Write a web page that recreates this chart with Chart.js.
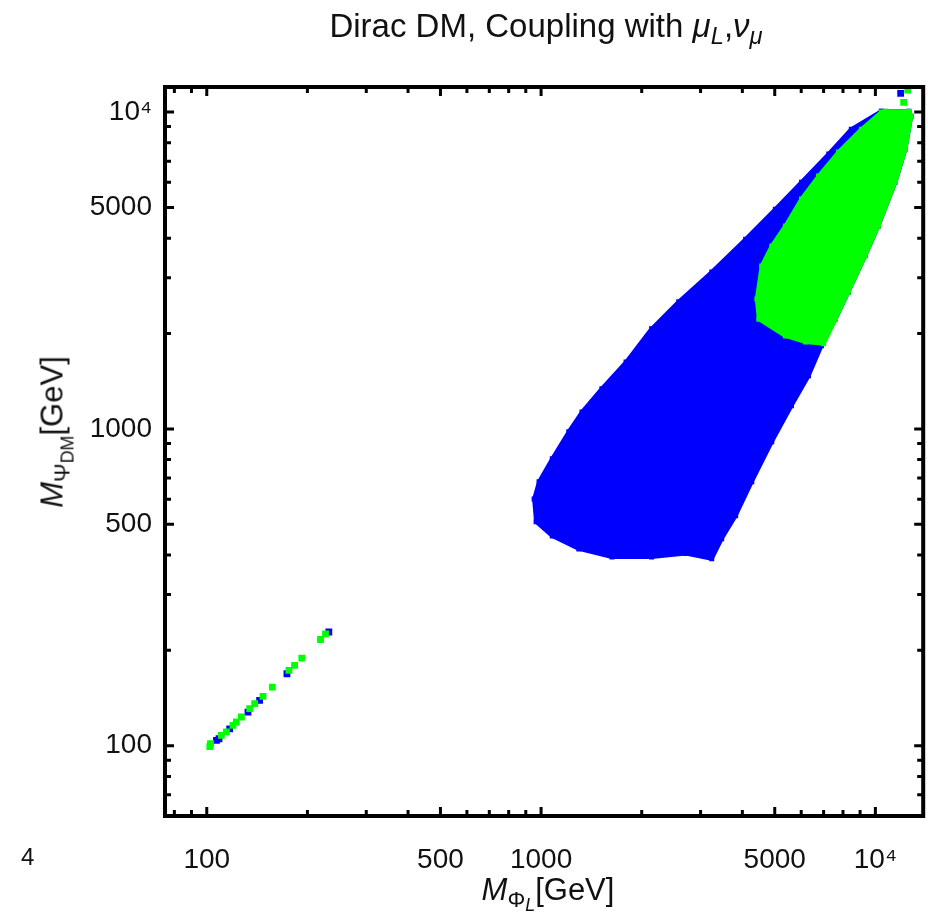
<!DOCTYPE html>
<html>
<head>
<meta charset="utf-8">
<script src="https://cdn.jsdelivr.net/npm/chart.js@4.4.1/dist/chart.umd.min.js"></script>
<style>
body { margin: 0; background: #fff; font-family: "Liberation Sans", Arial, sans-serif; color: #111; }
#contenedor { position: relative; width: 928px; height: 918px; }
.texto { position: absolute; white-space: nowrap; font-size: 31px; line-height: 1; }
.sub { font-size: 0.72em; position: relative; top: 0.3em; }
.subsub { font-size: 0.8em; position: relative; top: 0.25em; }
i { font-style: italic; }
</style>
</head>
<body>
<div id="contenedor">
  <canvas id="grafico" width="928" height="918"></canvas>
  <div class="texto" id="titulo" style="left:546px; top:9px; font-size:33px; transform:translateX(-50%);">Dirac DM, Coupling with <i>μ</i><span class="sub"><i>L</i></span>,<i>ν</i><span class="sub"><i>μ</i></span></div>
  <div class="texto" id="titulo_x" style="left:548px; top:874px; transform:translateX(-50%);"><i>M</i><span class="sub">Φ<span class="subsub"><i>L</i></span></span>[GeV]</div>
  <div class="texto" id="titulo_y" style="left:52px; top:432px; transform:translate(-50%,-50%) rotate(-90deg);"><i>M</i><span class="sub">Ψ<span class="subsub">DM</span></span>[GeV]</div>
  <div class="texto" style="left:21px; top:845px; font-size:24px;">4</div>
</div>
<script>
// contorno de la nube azul
const blueRegionX = [10420, 8470, 7250, 6010, 5020, 4090, 3240, 2580, 2140, 1795, 1520, 1325, 1210, 1080, 986, 953, 966, 1080, 1297, 1630, 2140, 2710, 3240, 3470, 3820, 4270, 4900, 5610, 6310, 6900, 7600, 8300, 9330, 10210, 11480, 12300, 12800, 12600]
const blueRegionY = [10070, 8830, 7380, 6010, 4940, 3970, 3130, 2520, 2070, 1625, 1340, 1130, 980, 805, 681, 601, 509, 459, 418, 394, 394, 404, 389, 450, 532, 681, 910, 1183, 1470, 1830, 2220, 2700, 3520, 4370, 6010, 7640, 9700, 10070]

// contorno de la nube verde
const greenRegionX = [10720, 12600, 12800, 12300, 11480, 10210, 9330, 8300, 7600, 7000, 6180, 5380, 4480, 4420, 4570, 4900, 5380, 6010, 6760, 7760, 9080, 10420]
const greenRegionY = [10070, 10070, 9700, 7640, 6010, 4370, 3520, 2700, 2220, 1855, 1880, 1965, 2220, 2570, 3270, 3780, 4370, 5320, 6280, 7480, 8830, 10000]

// puntos sueltos en la diagonal baja
const greenDiagX = [102.1, 102.6, 110.6, 114.5, 119.8, 122.6, 126.9, 134.4, 139.1, 147.3, 157.1, 176.1, 183.1, 192.5, 218.9, 226.6]
const greenDiagY = [99.3, 101.5, 107.8, 110.5, 115.9, 118.8, 123.2, 130.9, 135.7, 143.1, 153.2, 172.8, 179.2, 189.1, 216.4, 225.6]
const blueDiagX = [106.9, 108.8, 117.1, 132.8, 143.9, 173.7, 231.8]
const blueDiagY = [103.9, 105.2, 113.1, 127.7, 139.0, 168.7, 228.5]

// puntos aislados arriba a la derecha
const blueOutX = [11900]
const blueOutY = [11460]
const greenOutX = [12490, 12150]
const greenOutY = [11730, 10730]

// ticks
const majorTicks = [100, 500, 1000, 5000, 10000]
const tickLabels = ["100", "500", "1000", "5000", "10⁴"]
const xMinorTicks = [80, 90, 200, 300, 400, 600, 700, 800, 900, 2000, 3000, 4000, 6000, 7000, 8000, 9000]
const yMinorTicks = [70, 80, 90, 200, 300, 400, 600, 700, 800, 900, 2000, 3000, 4000, 6000, 7000, 8000, 9000]

const azul = "#0000ff"
const verde = "#00ff00"

function juntar(xs, ys) {
    var puntos = []
    for (var i = 0; i < xs.length; i++) {
        puntos.push({ x: xs[i], y: ys[i] })
    }
    return puntos
}

function region(xs, ys, color, orden) {
    var pts = juntar(xs, ys)
    pts.push(pts[0])
    return {
        data: pts,
        showLine: true,
        fill: "shape",
        backgroundColor: color,
        borderColor: color,
        borderWidth: 4,
        borderJoinStyle: "round",
        pointStyle: "rect",
        pointRadius: 3.5,
        pointBackgroundColor: color,
        pointBorderWidth: 0,
        order: orden
    }
}

function sueltos(xs, ys, color, orden) {
    return {
        data: juntar(xs, ys),
        pointStyle: "rect",
        pointRadius: 4.8,
        pointBackgroundColor: color,
        pointBorderWidth: 0,
        order: orden
    }
}

const marco = {
    id: "marco",
    afterDraw(chart) {
        const ctx = chart.ctx
        const a = chart.chartArea
        const sx = chart.scales.x
        const sy = chart.scales.y
        ctx.save()
        ctx.strokeStyle = "#000"
        ctx.lineWidth = 3
        function tickX(v, largo) {
            const px = sx.getPixelForValue(v)
            ctx.beginPath()
            ctx.moveTo(px, a.bottom); ctx.lineTo(px, a.bottom - largo)
            ctx.moveTo(px, a.top); ctx.lineTo(px, a.top + largo)
            ctx.stroke()
        }
        function tickY(v, largo) {
            const py = sy.getPixelForValue(v)
            ctx.beginPath()
            ctx.moveTo(a.left, py); ctx.lineTo(a.left + largo, py)
            ctx.moveTo(a.right, py); ctx.lineTo(a.right - largo, py)
            ctx.stroke()
        }
        majorTicks.forEach(v => { tickX(v, 9); tickY(v, 9) })
        xMinorTicks.forEach(v => tickX(v, 6))
        yMinorTicks.forEach(v => tickY(v, 6))
        ctx.lineWidth = 4
        ctx.strokeRect(a.left, a.top, a.right - a.left, a.bottom - a.top)
        ctx.restore()
    }
}

function etiqueta(valor) {
    const i = majorTicks.indexOf(valor)
    return i >= 0 ? tickLabels[i] : ""
}

const fuente = { family: "'Liberation Sans', Arial, sans-serif", size: 28 }

new Chart(document.querySelector("#grafico"), {
    type: "scatter",
    data: {
        datasets: [
            region(blueRegionX, blueRegionY, azul, 5),
            region(greenRegionX, greenRegionY, verde, 4),
            sueltos(blueDiagX, blueDiagY, azul, 3),
            sueltos(greenDiagX, greenDiagY, verde, 2),
            sueltos(blueOutX, blueOutY, azul, 1),
            sueltos(greenOutX, greenOutY, verde, 0)
        ]
    },
    options: {
        responsive: false,
        animation: false,
        layout: { padding: { top: 87, right: 3, left: 0, bottom: 0 } },
        plugins: {
            legend: { display: false },
            tooltip: { enabled: false }
        },
        scales: {
            x: {
                type: "logarithmic",
                min: 75,
                max: 13900,
                afterFit: s => { s.height = 102 },
                afterBuildTicks: s => { s.ticks = majorTicks.map(v => ({ value: v })) },
                grid: { display: false, drawTicks: false },
                border: { display: false },
                ticks: { autoSkip: false, maxRotation: 0, padding: 27, color: "#111", font: fuente, callback: etiqueta }
            },
            y: {
                type: "logarithmic",
                min: 60,
                max: 12000,
                afterFit: s => { s.width = 165 },
                afterBuildTicks: s => { s.ticks = majorTicks.map(v => ({ value: v })) },
                grid: { display: false, drawTicks: false },
                border: { display: false },
                ticks: { autoSkip: false, padding: 13, color: "#111", font: fuente, callback: etiqueta }
            }
        }
    },
    plugins: [marco]
})
</script>
</body>
</html>
